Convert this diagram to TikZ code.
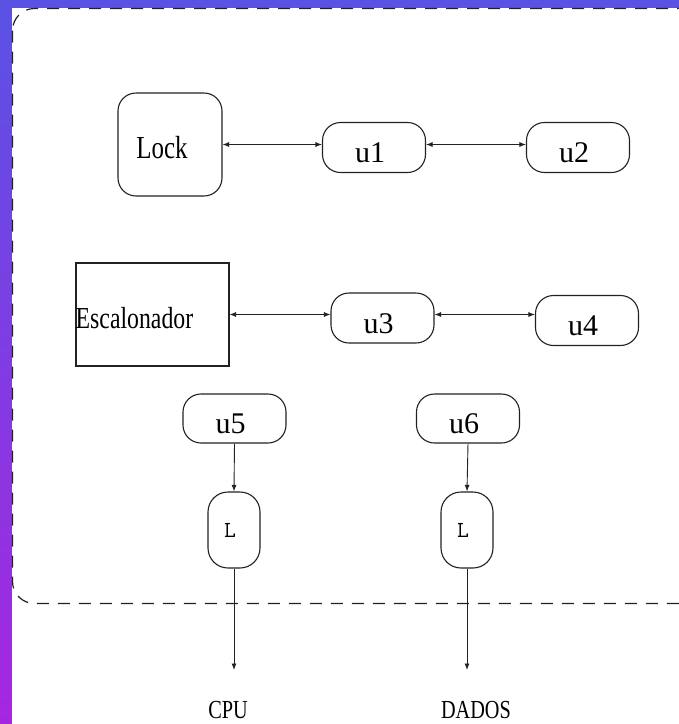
\documentclass[tikz,border=0pt]{standalone}
\usepackage{fontspec}
\setmainfont{Liberation Serif}
\newfontfamily\narrowserif[FakeStretch=0.78]{Liberation Serif}
\usetikzlibrary{arrows.meta}
\definecolor{bgtop}{HTML}{5A52E4}
\definecolor{bgbot}{HTML}{A626E0}
\definecolor{ink}{HTML}{222222}
% set a label a little to the left of its node's centre
\newcommand{\leftby}[2]{\kern-#1#2\kern#1}

\begin{document}
\begin{tikzpicture}[x=1pt,y=-1pt,
  box/.style={draw=ink, line width=1.1pt, inner sep=0pt},
  roundbox/.style={box, rounded corners=18pt},
  ubox/.style={roundbox, minimum width=103pt, minimum height=50pt,
    font=\fontsize{30}{30}\selectfont, text height=30pt, text depth=0pt},
  lbox/.style={box, rounded corners=20pt, minimum width=52pt, minimum height=76pt,
    font=\ttfamily\fontsize{23}{23}\selectfont, text height=14pt, text depth=0pt},
  tip/.tip={Latex[length=6.5pt,width=5pt]},
  link/.style={draw=ink, line width=0.9pt, tip-tip},
  flow/.style={draw=ink, line width=0.9pt, -tip},
  caption/.style={font=\narrowserif\fontsize{26}{26}\selectfont, anchor=base, inner sep=0pt},
  frame/.style={draw=ink, line width=1.2pt, dash pattern=on 12pt off 9pt, rounded corners=22pt}]

\useasboundingbox (0,0) rectangle (679,724);
\clip (0,0) rectangle (679,724);

% coloured margin strips on the left and at the top
\shade[top color=bgtop, bottom color=bgbot] (0,0) rectangle (679,724);
\fill[white] (12,8) rectangle (679,724);

% dashed enclosure
\draw[frame] (12.5,8.5) rectangle (705,603.5);

% first row
\node[roundbox, minimum width=104pt, minimum height=103pt,
      font=\narrowserif\fontsize{32}{32}\selectfont, text height=27pt, text depth=0pt]
      (lock) at (170,144.5) {\leftby{8pt}{Lock}};
\node[ubox] (u1) at (374,147.5) {\leftby{4pt}{u1}};
\node[ubox] (u2) at (578,147.5) {\leftby{4pt}{u2}};

% second row
\node[box, minimum width=153pt, minimum height=103pt] (esc) at (152.5,314.5) {};
\node[font=\narrowserif\fontsize{30.5}{30.5}\selectfont, anchor=base west, inner sep=0pt]
      (esctext) at ([yshift=-13.5pt]esc.west) {Escalonador};
\node[ubox] (u3) at (382.5,318) {\leftby{4pt}{u3}};
\node[ubox] (u4) at (587,320.5) {\leftby{4pt}{u4}};

% third row with the locks
\node[ubox, minimum height=49pt] (u5) at (234.5,418.5) {\leftby{4pt}{u5}};
\node[ubox, minimum height=49pt] (u6) at (468,418.5) {\leftby{4pt}{u6}};
\node[lbox] (l1) at (234,530) {\leftby{4pt}{L}};
\node[lbox] (l2) at (467,530) {\leftby{4pt}{L}};

\coordinate (cpuend) at (234,670);
\coordinate (dadosend) at (467,670);
\node[caption] (cpu) at (228,718) {CPU};
\node[caption] (dados) at (476,718) {DADOS};

% connectors
\draw[link] (lock.east) -- (lock.east -| u1.west);
\draw[link] (u1.east |- lock.east) -- (lock.east -| u2.west);
\draw[link] (esc.east) -- (esc.east -| u3.west);
\draw[link] (u3.east |- esc.east) -- (esc.east -| u4.west);
\draw[flow] (u5.south) -- (l1.north);
\draw[flow] (u6.south) -- (l2.north);
\draw[flow] (l1.south) -- (cpuend);
\draw[flow] (l2.south) -- (dadosend);
\end{tikzpicture}
\end{document}
